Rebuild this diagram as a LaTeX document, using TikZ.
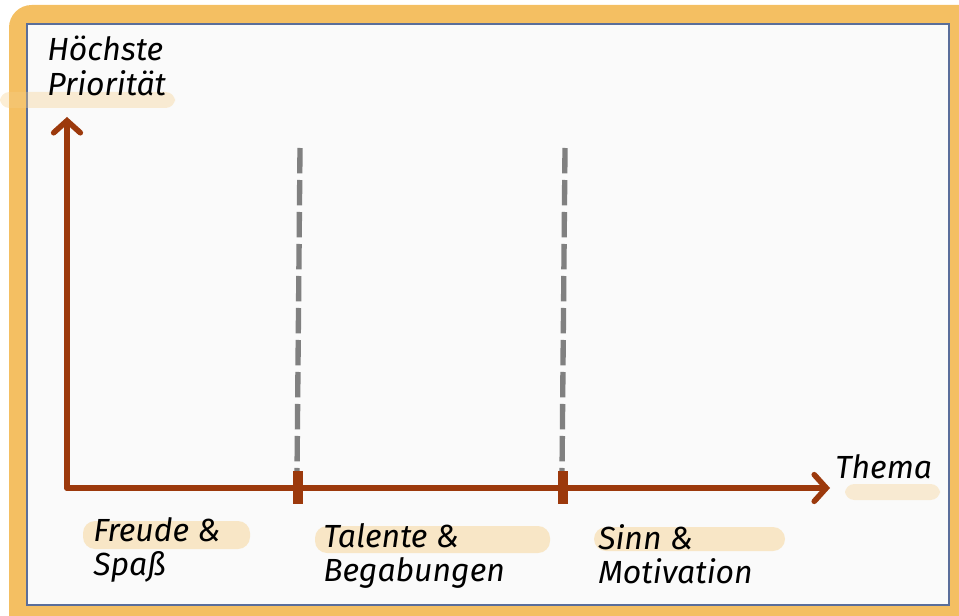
\documentclass[tikz,border=0pt]{standalone}
\usepackage{fontspec}
\setmainfont{Fira Sans}
\usetikzlibrary{arrows.meta}

\definecolor{rahmen}{HTML}{F4BF62}
\definecolor{flaeche}{HTML}{FAFAFA}
\definecolor{kante}{HTML}{5A6E9A}
\definecolor{achse}{HTML}{9C390C}
\definecolor{leucht}{HTML}{F6CF88}

\tikzset{
  achsenlinie/.style = {draw=achse, line width=4.2pt, line cap=round},
  spitze/.style      = {-{Straight Barb[length=9pt, width=20pt, line cap=round]}},
  strich/.style      = {draw=achse, line width=7.5pt},
  trenner/.style     = {draw=gray, line width=4pt, dash pattern=on 19pt off 5pt},
  beschriftung/.style = {font=\itshape\fontsize{24}{26}\selectfont, align=left,
                         inner sep=0pt, anchor=north west},
  leuchten/.style    = {fill=leucht, opacity=0.45, rounded corners=9pt}
}

\begin{document}
\begin{tikzpicture} [x=0.75pt, y=-0.75pt]
    \useasboundingbox (0,0) rectangle (959,616);
    \clip (0,0) rectangle (959,616);

    % Rahmen und Fläche
    \fill[rahmen, rounded corners=17pt] (9,5) rectangle (990,640);
    \filldraw[fill=flaeche, draw=kante, line width=1.2pt] (27,24) rectangle (949,605);

    % Leuchtmarker hinter den Texten
    \fill[leuchten, opacity=0.35, rounded corners=7pt] (0,92) rectangle (175,108);
    \fill[leuchten, opacity=0.35, rounded corners=7pt] (845,484) rectangle (940,500);
    \fill[leuchten] (83,521) rectangle (250,549);
    \fill[leuchten] (315,526) rectangle (550,553);
    \fill[leuchten] (594,527) rectangle (785,551);

    % Punkte
    \coordinate (o)     at (67,488);
    \coordinate (ytip)  at (67,117);
    \coordinate (xtip)  at (830,488);
    \coordinate (oben1) at (300,148);
    \coordinate (oben2) at (565,148);
    \coordinate (unten1) at (297,474);
    \coordinate (unten2) at (562,474);

    % Trennlinien
    \draw[trenner] (oben1) -- (unten1);
    \draw[trenner] (oben2) -- (unten2);

    % Achsen
    \draw[achsenlinie, spitze] (o) -- (ytip);
    \draw[achsenlinie, spitze] (o) -- (xtip);

    % Striche auf der x-Achse
    \draw[strich] (298,471) -- (298,504);
    \draw[strich] (563,471) -- (563,504);

    % Beschriftungen
    \node[beschriftung] (prio)   at (47,36)   {Höchste\\Priorität};
    \node[beschriftung] (thema)  at (835,454) {Thema};
    \node[beschriftung] (freude) at (93,517)  {Freude \&\\Spaß};
    \node[beschriftung] (talent) at (323,523) {Talente \&\\Begabungen};
    \node[beschriftung] (sinn)   at (598,524) {Sinn \&\\Motivation};
\end{tikzpicture}
\end{document}
